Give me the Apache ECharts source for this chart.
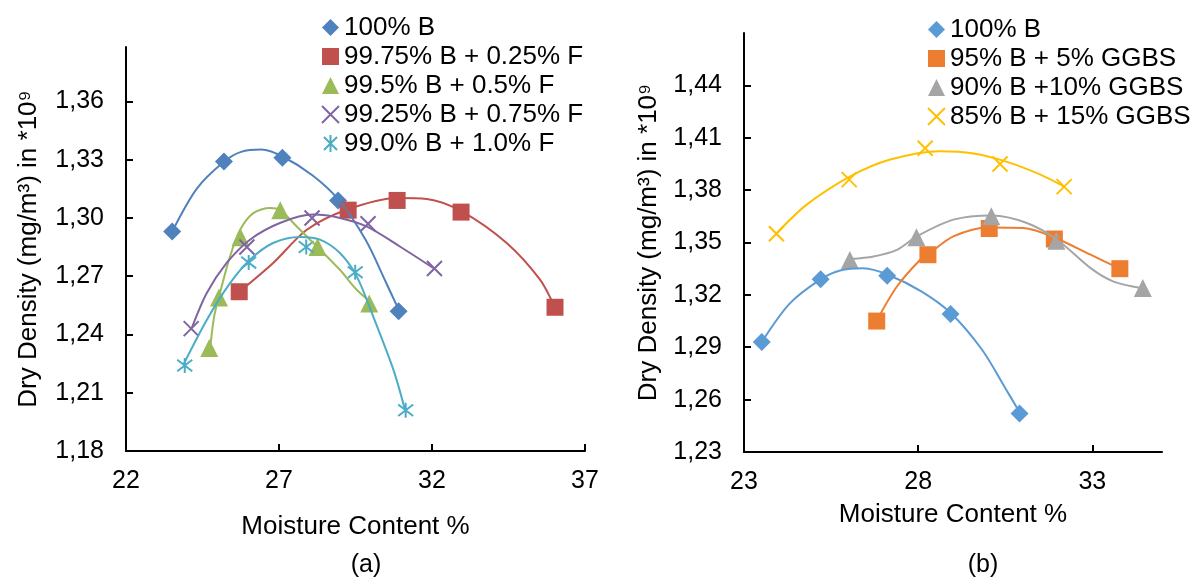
<!DOCTYPE html>
<html>
<head>
<meta charset="utf-8">
<script src="https://cdn.jsdelivr.net/npm/echarts@6/dist/echarts.min.js"></script>
<style>
  html, body { margin: 0; padding: 0; background: #fff; }
  #main { width: 1201px; height: 581px; }
</style>
</head>
<body>
<div id="main"></div>
<script>
// measured points [moisture %, dry density]
var b100 = [[23.51, 1.293], [25.20, 1.329], [27.11, 1.331], [28.93, 1.309], [30.91, 1.252]];
var f025 = [[25.70, 1.262], [29.26, 1.304], [30.86, 1.309], [32.95, 1.303], [36.02, 1.254]];
var f050 = [[24.72, 1.233], [25.04, 1.259], [25.74, 1.290], [27.04, 1.304], [28.26, 1.285], [29.95, 1.256]];
var f075 = [[24.13, 1.243], [25.95, 1.285], [28.08, 1.300], [29.91, 1.297], [32.08, 1.274]];
var f100 = [[23.92, 1.224], [26.01, 1.277], [27.89, 1.285], [29.49, 1.272], [31.14, 1.201]];
var g05 = [[26.81, 1.305], [28.28, 1.343], [30.04, 1.358], [31.91, 1.352], [33.79, 1.335]];
var g10 = [[26.04, 1.340], [27.95, 1.353], [30.10, 1.365], [31.97, 1.351], [34.45, 1.324]];
var g15 = [[23.93, 1.355], [26.02, 1.386], [28.20, 1.404], [30.35, 1.395], [32.19, 1.382]];

// trendlines
var b100Fit = [[23.51, 1.293], [24.31, 1.315], [25.21, 1.329], [25.76, 1.334], [26.43, 1.3352], [27.13, 1.3315],
  [28.09, 1.322], [28.94, 1.3095], [29.83, 1.2887], [30.49, 1.267], [30.91, 1.2528]];
var f025Fit = [[25.69, 1.2618], [26.81, 1.2768], [27.91, 1.2939], [29.21, 1.3042], [30.85, 1.3103], [31.83, 1.3098],
  [32.97, 1.3034], [34.44, 1.2871], [35.53, 1.2682], [36.02, 1.2539]];
var f050Fit = [[24.75, 1.2329], [24.88, 1.2492], [25.07, 1.2613], [25.40, 1.2802], [25.73, 1.2939], [26.16, 1.3025],
  [26.71, 1.3051], [27.03, 1.3042], [27.58, 1.2956], [28.24, 1.2853], [28.99, 1.2733], [29.54, 1.2630], [29.97, 1.2570]];
var f075Fit = [[24.15, 1.2433], [24.64, 1.2613], [25.29, 1.2768], [26.05, 1.2888], [27.03, 1.2974], [28.12, 1.3017],
  [28.99, 1.3000], [29.86, 1.2956], [30.95, 1.2853], [32.04, 1.2742]];
var f100Fit = [[23.87, 1.2243], [24.64, 1.2475], [25.40, 1.2664], [26.05, 1.2785], [26.81, 1.2871], [27.69, 1.2902],
  [28.34, 1.2888], [28.99, 1.2819], [29.54, 1.2699], [30.08, 1.2492], [30.74, 1.2218], [31.12, 1.2011]];
var g05Fit = [[26.81, 1.3052], [27.39, 1.3248], [28.06, 1.3401], [28.30, 1.3434], [29.01, 1.3535], [30.02, 1.3586],
  [31.03, 1.3583], [31.94, 1.3526], [32.95, 1.3430], [33.76, 1.3353]];
var g10Fit = [[26.05, 1.3405], [26.72, 1.3420], [27.39, 1.3458], [27.96, 1.3535], [29.01, 1.3631], [30.12, 1.3655],
  [31.12, 1.3612], [31.99, 1.3516], [32.95, 1.3353], [33.61, 1.3276], [34.43, 1.3238]];
var g15Fit = [[23.94, 1.3554], [24.80, 1.3717], [26.05, 1.3879], [27.20, 1.3975], [28.63, 1.4023], [29.59, 1.4010],
  [30.55, 1.3962], [31.51, 1.3889], [32.18, 1.3822]];

var xTicksA = [22, 27, 32, 37];
var yTicksA = [1.18, 1.21, 1.24, 1.27, 1.30, 1.33, 1.36];
var xTicksB = [23, 28, 33];
var yTicksB = [1.23, 1.26, 1.29, 1.32, 1.35, 1.38, 1.41, 1.44];

var namesA = ['100% B', '99.75% B + 0.25% F', '99.5% B + 0.5% F', '99.25% B + 0.75% F', '99.0% B + 1.0% F'];
var namesB = ['100% B ', '95% B + 5% GGBS', '90% B +10% GGBS', '85% B + 15% GGBS'];

var FONT = 'Liberation Sans';
var X_MARK = 'path://M0,0L10,10M10,0L0,10';
var STAR_MARK = 'path://M0,0L10,10M10,0L0,10M5,-1.5L5,11.5';

function xAxis(idx, min, max, ticks, gap) {
  return {
    type: 'value', gridIndex: idx, min: min, max: max, interval: 5,
    name: 'Moisture Content %', nameLocation: 'middle', nameGap: gap,
    nameTextStyle: { fontFamily: FONT, fontSize: 26, color: '#000' },
    axisLine: { show: true, lineStyle: { color: '#000', width: 2 } },
    axisTick: { show: true, inside: true, length: 7, customValues: ticks, lineStyle: { color: '#000', width: 2 } },
    axisLabel: { customValues: ticks, margin: 18, fontFamily: FONT, fontSize: 25, color: '#000' },
    splitLine: { show: false }
  };
}

function yAxis(idx, min, max, ticks, gap) {
  return {
    type: 'value', gridIndex: idx, min: min, max: max, interval: 0.03,
    name: 'Dry Density (mg/m\u00b3) in *10\u2079', nameLocation: 'middle', nameGap: gap,
    nameTextStyle: { fontFamily: FONT, fontSize: 26, color: '#000' },
    axisLine: { show: true, lineStyle: { color: '#000', width: 2 } },
    axisTick: { show: true, inside: true, length: 7, customValues: ticks, lineStyle: { color: '#000', width: 2 } },
    axisLabel: {
      customValues: ticks, margin: 22, fontFamily: FONT, fontSize: 25, color: '#000',
      formatter: function (v) { return v.toFixed(2).replace('.', ','); }
    },
    splitLine: { show: false }
  };
}

function marks(idx, name, data, color, symbol, size, stroke) {
  return {
    type: 'scatter', name: name, xAxisIndex: idx, yAxisIndex: idx, data: data,
    symbol: symbol, symbolSize: size, z: 2,
    itemStyle: stroke ? { color: color, borderColor: color, borderWidth: 2, opacity: 1 } : { color: color, opacity: 1 }
  };
}

function fit(idx, data, color) {
  return {
    type: 'line', xAxisIndex: idx, yAxisIndex: idx, data: data, smooth: 0.3,
    symbol: 'none', silent: true, z: 3,
    lineStyle: { color: color, width: 2 }
  };
}

var legendBase = {
  orient: 'vertical', itemWidth: 17, itemHeight: 17, itemGap: 0,
  textStyle: { fontFamily: FONT, fontSize: 26, color: '#000', lineHeight: 29 }
};

var chart = echarts.init(document.getElementById('main'));
chart.setOption({
  animation: false,
  grid: [
    { left: 126, top: 47, width: 459, height: 404 },
    { left: 744, top: 33, width: 418, height: 419 }
  ],
  xAxis: [xAxis(0, 22, 37, xTicksA, 63), xAxis(1, 23, 35, xTicksB, 50)],
  yAxis: [yAxis(0, 1.18, 1.388, yTicksA, 84), yAxis(1, 1.23, 1.47, yTicksB, 82)],
  legend: [
    Object.assign({ left: 316, top: 8, data: namesA }, legendBase),
    Object.assign({ left: 922, top: 10, data: namesB }, legendBase)
  ],
  graphic: [
    { type: 'text', x: 366, y: 565, style: { text: '(a)', fontFamily: FONT, fontSize: 25, fill: '#000', align: 'center', verticalAlign: 'middle' } },
    { type: 'text', x: 983, y: 565, style: { text: '(b)', fontFamily: FONT, fontSize: 25, fill: '#000', align: 'center', verticalAlign: 'middle' } }
  ],
  series: [
    fit(0, b100Fit, '#4F81BD'),
    fit(0, f025Fit, '#C0504D'),
    fit(0, f050Fit, '#9BBB59'),
    fit(0, f075Fit, '#8064A2'),
    fit(0, f100Fit, '#4BACC6'),
    marks(0, namesA[0], b100, '#4F81BD', 'diamond', 18),
    marks(0, namesA[1], f025, '#C0504D', 'rect', 17),
    marks(0, namesA[2], f050, '#9BBB59', 'triangle', 18),
    marks(0, namesA[3], f075, '#8064A2', X_MARK, 15, true),
    marks(0, namesA[4], f100, '#4BACC6', STAR_MARK, 15, true),

    fit(1, b100Fit, '#5B9BD5'),
    fit(1, g05Fit, '#ED7D31'),
    fit(1, g10Fit, '#A5A5A5'),
    fit(1, g15Fit, '#FFC000'),
    marks(1, namesB[0], b100, '#5B9BD5', 'diamond', 18),
    marks(1, namesB[1], g05, '#ED7D31', 'rect', 17),
    marks(1, namesB[2], g10, '#A5A5A5', 'triangle', 18),
    marks(1, namesB[3], g15, '#FFC000', X_MARK, 15, true)
  ]
});
</script>
</body>
</html>
